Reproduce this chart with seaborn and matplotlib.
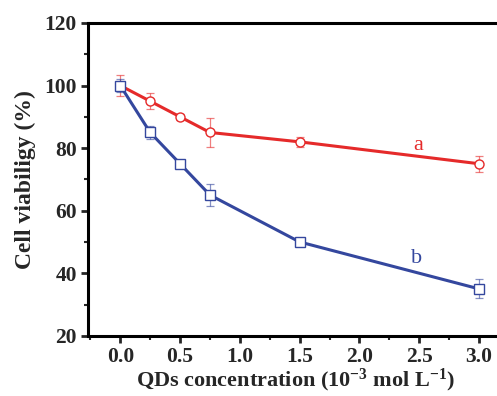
import numpy as np
import pandas as pd
import matplotlib
matplotlib.use("Agg")
import matplotlib.pyplot as plt
import seaborn as sns
from matplotlib.ticker import MultipleLocator

conc = [0.0, 0.25, 0.5, 0.75, 1.5, 3.0]
viab_a = [100, 95, 90, 85, 82, 75]
err_a = [3.5, 2.5, 1.0, 4.5, 1.5, 2.5]
viab_b = [100, 85, 75, 65, 50, 35]
err_b = [2.0, 2.0, 1.0, 3.5, 1.0, 3.0]
series_names = ["a", "b"]
colors = {"a": "#e52a2a", "b": "#34479e"}
markers = {"a": "o", "b": "s"}

sns.set_style("ticks")
plt.rcParams["font.family"] = ["Liberation Serif", "DejaVu Serif"]
plt.rcParams["mathtext.fontset"] = "custom"
plt.rcParams["mathtext.rm"] = "Liberation Serif:bold"
plt.rcParams["mathtext.it"] = "Liberation Serif:bold"
plt.rcParams["mathtext.bf"] = "Liberation Serif:bold"

df = pd.DataFrame({
    "conc": conc * 2,
    "viab": viab_a + viab_b,
    "series": ["a"] * len(conc) + ["b"] * len(conc),
})

fig = plt.figure(figsize=(4.97, 3.96), dpi=100)
ax = fig.add_axes([0.177, 0.152, 0.835, 0.79])

sns.lineplot(data=df, x="conc", y="viab", hue="series", style="series",
             palette=colors, markers=markers, dashes=False, linewidth=2.2,
             markersize=6.5, legend=False, ax=ax, zorder=3)
for line in ax.lines:
    c = line.get_color()
    line.set_markerfacecolor("white")
    line.set_markeredgecolor(c)
    line.set_markeredgewidth(1.0)

for name, vals, errs in [("a", viab_a, err_a), ("b", viab_b, err_b)]:
    ax.errorbar(conc, vals, yerr=errs, fmt="none", ecolor=colors[name],
                elinewidth=0.9, capsize=3, capthick=0.9, alpha=0.6, zorder=2)

ax.text(2.49, 79.4, "a", color=colors["a"], fontsize=16, ha="center", va="baseline",
        family=["Liberation Serif"])
ax.text(2.48, 43.3, "b", color=colors["b"], fontsize=16, ha="center", va="baseline",
        family=["Liberation Serif"])

ax.set_xlim(-0.27, 3.2)
ax.set_ylim(20, 120)
ax.xaxis.set_minor_locator(MultipleLocator(0.25))
ax.yaxis.set_major_locator(MultipleLocator(20))
ax.yaxis.set_minor_locator(MultipleLocator(10))
ax.set_xticks([0.0, 0.5, 1.0, 1.5, 2.0, 2.5, 3.0])
ax.set_xticklabels(["0.0", "0.5", "1.0", "1.5", "2.0", "2.5", "3.0"])

for s in ["left", "bottom", "top"]:
    ax.spines[s].set_linewidth(2.2)
    ax.spines[s].set_color("black")
ax.spines["right"].set_visible(False)

ax.tick_params(axis="both", which="major", direction="out", length=5, width=2,
               labelsize=15.5, top=False, right=False, pad=3)
ax.tick_params(axis="both", which="minor", direction="out", length=3, width=1.5,
               top=False, right=False)
for lab in ax.get_xticklabels() + ax.get_yticklabels():
    lab.set_fontweight("bold")

ax.set_xlabel("QDs concentration (10$^{-3}$ mol L$^{-1}$)", fontsize=16,
              fontweight="bold", labelpad=0)
ax.set_ylabel("Cell viabiligy (%)", fontsize=17, fontweight="bold", labelpad=6)

fig.savefig("out.png", dpi=100)
